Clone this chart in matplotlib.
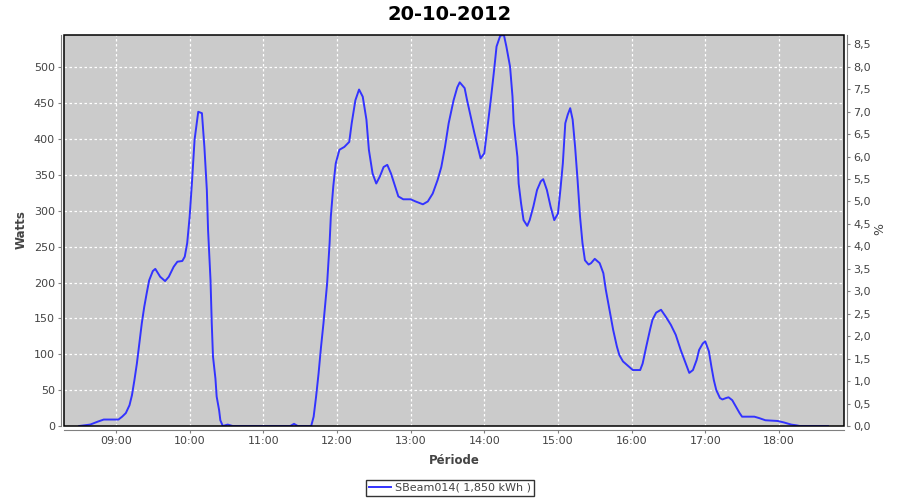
import matplotlib
matplotlib.use("Agg")
import matplotlib.pyplot as plt
from matplotlib.ticker import FuncFormatter, MultipleLocator, FixedLocator
from matplotlib.patches import Rectangle

# ---------------- data ----------------
times = ["08:30", "08:39", "08:45", "08:50", "09:02", "09:05", "09:08", "09:11", "09:13", "09:15",
         "09:17", "09:19", "09:21", "09:23", "09:25", "09:27", "09:30", "09:32", "09:36", "09:40",
         "09:43", "09:47", "09:50", "09:54", "09:56", "09:58", "10:00", "10:02", "10:04", "10:07",
         "10:10", "10:11", "10:12", "10:14", "10:15", "10:17", "10:18", "10:19", "10:21", "10:22",
         "10:24", "10:25", "10:27", "10:31", "10:35", "11:22", "11:25", "11:28", "11:39", "11:41",
         "11:43", "11:45", "11:47", "11:49", "11:52", "11:54", "11:55", "11:57", "11:59", "12:02",
         "12:06", "12:10", "12:12", "12:15", "12:18", "12:21", "12:24", "12:26", "12:29", "12:32",
         "12:35", "12:38", "12:41", "12:44", "12:47", "12:50", "12:54", "13:00", "13:04", "13:10",
         "13:14", "13:18", "13:22", "13:25", "13:28", "13:31", "13:35", "13:38", "13:40", "13:44",
         "13:46", "13:49", "13:52", "13:55", "13:57", "14:00", "14:02", "14:05", "14:08", "14:10",
         "14:13", "14:16", "14:18", "14:21", "14:23", "14:24", "14:27", "14:28", "14:30", "14:32",
         "14:35", "14:37", "14:40", "14:43", "14:46", "14:48", "14:51", "14:54", "14:57", "15:00",
         "15:02", "15:04", "15:06", "15:08", "15:10", "15:12", "15:14", "15:16", "15:18", "15:20",
         "15:22", "15:25", "15:27", "15:30", "15:34", "15:37", "15:39", "15:42", "15:45", "15:48",
         "15:50", "15:53", "15:57", "16:01", "16:07", "16:09", "16:12", "16:15", "16:17", "16:20",
         "16:24", "16:28", "16:32", "16:36", "16:40", "16:45", "16:47", "16:50", "16:53", "16:55",
         "16:58", "17:00", "17:03", "17:05", "17:07", "17:09", "17:12", "17:14", "17:17", "17:19",
         "17:22", "17:25", "17:28", "17:30", "17:40", "17:44", "17:49", "17:59", "18:04", "18:10",
         "18:14", "18:17", "18:40"]
watts = [0, 2, 6, 9, 9, 13, 18, 29, 43, 64,
         87, 115, 143, 166, 185, 203, 216, 219, 208, 202,
         208, 222, 229, 230, 236, 255, 292, 343, 399, 438,
         436, 413, 389, 329, 273, 203, 143, 97, 66, 41,
         22, 8, 0, 2, 0, 0, 3, 0, 0, 13,
         41, 73, 110, 143, 199, 255, 292, 334, 366, 385,
         389, 396, 422, 454, 469, 459, 427, 385, 352, 338,
         348, 361, 364, 352, 336, 320, 316, 316, 313, 309,
         313, 324, 343, 361, 389, 422, 454, 472, 479, 471,
         454, 431, 408, 387, 373, 380, 408, 450, 496, 529,
         544, 545, 529, 501, 459, 422, 375, 338, 310, 287,
         279, 287, 306, 329, 341, 344, 329, 306, 287, 296,
         329, 366, 422, 434, 443, 427, 389, 343, 292, 255,
         231, 225, 227, 233, 227, 213, 190, 162, 134, 111,
         99, 90, 84, 78, 78, 87, 111, 134, 148, 158,
         162, 152, 141, 127, 106, 83, 74, 78, 92, 106,
         115, 118, 104, 83, 64, 50, 39, 37, 39, 40,
         36, 27, 18, 13, 13, 11, 8, 7, 5, 2,
         1, 0, 0]
x_tick_labels = ["09:00", "10:00", "11:00", "12:00", "13:00", "14:00",
                 "15:00", "16:00", "17:00", "18:00"]
title = "20-10-2012"
series_label = "SBeam014( 1,850 kWh )"
watts_max = 545
watts_per_percent = 62.6


def to_h(s):
    h, m = s.split(":")
    return int(h) + int(m) / 60.0


def fmt_h(v, pos=None):
    tot = int(round(v * 60))
    return "%02d:%02d" % (tot // 60, tot % 60)


fig = plt.figure(figsize=(9, 5), dpi=100)
ax = fig.add_axes([64.3 / 900, 74 / 500, (843.7 - 64.3) / 900, (426 - 35) / 500])
ax.set_facecolor("#cbcbcb")

xs = [to_h(t) for t in times]
line, = ax.plot(xs, watts, color="#3333ff", lw=1.4, zorder=3, label=series_label)

ax.set_xlim(to_h("08:18") - 0.002, 18 + 52.8 / 60)
ax.set_ylim(0, watts_max)

ax.xaxis.set_major_locator(FixedLocator([to_h(t) for t in x_tick_labels]))
ax.xaxis.set_major_formatter(FuncFormatter(fmt_h))
ax.yaxis.set_major_locator(MultipleLocator(50))

ax.grid(True, color="white", linestyle=(0, (2, 2)), linewidth=0.9)
ax.set_axisbelow(True)

grey = "#808080"
txt = "#444444"
for s in ["top", "right"]:
    ax.spines[s].set_visible(False)
ax.spines["left"].set_position(("outward", 2.2))
ax.spines["bottom"].set_position(("outward", 2.6))
ax.spines["left"].set_color(grey)
ax.spines["bottom"].set_color(grey)
ax.tick_params(axis="both", colors=grey, labelcolor=txt, labelsize=8, length=2.5, width=0.8)
ax.tick_params(axis="x", pad=2)
ax.tick_params(axis="y", pad=2)

# black frame around plot area
ax.add_patch(Rectangle((0, 0), 1, 1, transform=ax.transAxes, fill=False,
                       edgecolor="black", linewidth=1.1, zorder=5, clip_on=False))

ax2 = ax.twinx()
ax2.set_ylim(0, watts_max / watts_per_percent)
ax2.yaxis.set_major_locator(MultipleLocator(0.5))
ax2.yaxis.set_major_formatter(FuncFormatter(lambda v, p: ("%.1f" % v).replace(".", ",")))
for s in ["top", "left", "bottom"]:
    ax2.spines[s].set_visible(False)
ax2.spines["right"].set_position(("outward", 2.6))
ax2.spines["right"].set_color(grey)
ax2.tick_params(axis="y", colors=grey, labelcolor=txt, labelsize=8, length=2.5, width=0.8, pad=2)

fig.text(0.5, 1 - 14 / 500, title, ha="center", va="center", fontsize=14,
         fontweight="bold", color="black")
fig.text(454 / 900, 1 - 460 / 500, "Période", ha="center", va="center", fontsize=8.5,
         fontweight="bold", color=txt)
fig.text(21 / 900, 1 - 230 / 500, "Watts", ha="center", va="center", fontsize=8.5,
         fontweight="bold", color=txt, rotation=90)
fig.text(880 / 900, 1 - 229 / 500, "%", ha="center", va="center", fontsize=9,
         color=txt, rotation=90)

leg = fig.legend(handles=[line], labels=[series_label], loc="center",
                 bbox_to_anchor=(0.5, 1 - 488 / 500), fontsize=8, frameon=True,
                 fancybox=False, edgecolor="black", borderpad=0.25, handlelength=2.0,
                 handletextpad=0.3, borderaxespad=0)
leg.get_frame().set_linewidth(1.0)
for t in leg.get_texts():
    t.set_color(txt)

fig.savefig("out.png", dpi=100)
